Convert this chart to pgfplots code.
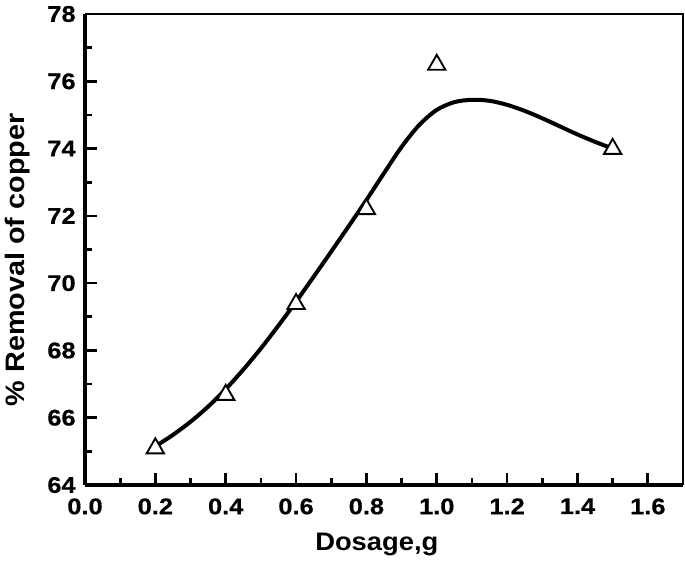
\documentclass[border=0pt]{standalone}
\usepackage{fontspec}
\setmainfont{Liberation Sans}
\newfontfamily\tickfont[FakeStretch=1.12,FakeBold=0.6]{Liberation Sans}
\newfontfamily\labfont[FakeStretch=1.08]{Liberation Sans}
\usepackage{pgfplots}
\pgfplotsset{compat=1.18}
\begin{document}
\begin{tikzpicture}
\useasboundingbox (-63.75pt,-63pt) rectangle (450pt,363.75pt);
\begin{axis}[
  at={(0,0)}, anchor=south west,
  scale only axis,
  width=448.5pt, height=353.25pt,
  xmin=0, xmax=1.7, ymin=64, ymax=78,
  axis x line=bottom, axis y line=left,
  axis line style={-, line width=3pt},
  xtick={0,0.2,...,1.6},
  minor xtick={0.1,0.3,...,1.7},
  ytick={64,66,...,78},
  minor ytick={65,67,...,77},
  xticklabels={0.0,0.2,0.4,0.6,0.8,1.0,1.2,1.4,1.6},
  tick align=inside,
  major tick length=9.3pt,
  minor tick length=5.3pt,
  every tick/.style={black, line width=2pt},
  /pgf/number format/assume math mode=true,
  tick label style={font=\tickfont\fontsize{17}{20}\selectfont\bfseries},
  xticklabel style={yshift=-6.5pt},
  yticklabel style={xshift=-3.5pt},
  xlabel={Dosage,g},
  ylabel={\% Removal of copper},
  xlabel style={font=\labfont\fontsize{19}{22}\selectfont\bfseries, at={(axis description cs:0.488,-0.127)}, anchor=center},
  ylabel style={font=\labfont\fontsize{20}{23}\selectfont\bfseries, at={(axis description cs:-0.112,0.478)}, anchor=center},
  clip=false,
]
\draw[line width=1.1pt] (rel axis cs:0,1) -- (rel axis cs:1,1) -- (rel axis cs:1,0);
\addplot[black, line width=3pt, smooth, no marks] coordinates {
 (0.20,65.15) (0.25,65.49) (0.30,65.88) (0.35,66.33) (0.40,66.85)
 (0.45,67.43) (0.50,68.06) (0.55,68.74) (0.60,69.45) (0.65,70.19)
 (0.70,70.94) (0.75,71.70) (0.80,72.47) (0.85,73.27) (0.90,74.05)
 (0.95,74.70) (1.00,75.15) (1.05,75.38) (1.10,75.45) (1.15,75.42)
 (1.20,75.30) (1.25,75.12) (1.30,74.90) (1.35,74.66) (1.40,74.42)
 (1.45,74.20) (1.50,74.00)
};
\addplot[only marks, mark=triangle*, mark size=7.5pt,
  mark options={fill=white, draw=black, line width=1.4pt}] coordinates {
 (0.2,65.09) (0.4,66.68) (0.6,69.38) (0.8,72.20) (1.0,76.49) (1.5,73.99)
};
\end{axis}
\end{tikzpicture}
\end{document}
